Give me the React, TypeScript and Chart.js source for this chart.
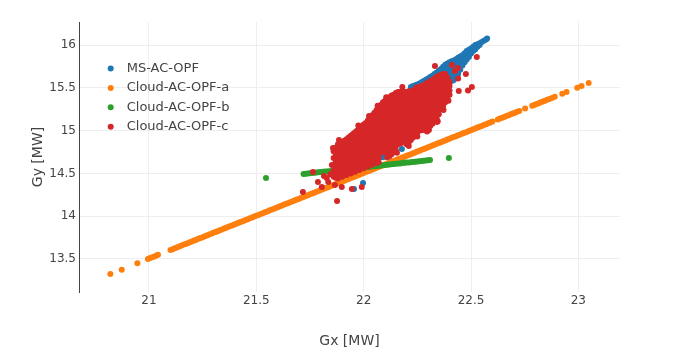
import React, { useEffect, useRef } from 'react';
import { Chart, registerables } from 'chart.js';

Chart.register(...registerables);

const FONT = 'DejaVu Sans';

const seriesNames = ['MS-AC-OPF', 'Cloud-AC-OPF-a', 'Cloud-AC-OPF-b', 'Cloud-AC-OPF-c'];
const seriesColors = ['#1f77b4', '#ff7f0e', '#2ca02c', '#d62728'];

const xTicks = [21, 21.5, 22, 22.5, 23];
const xTickLabels = ['21', '21.5', '22', '22.5', '23'];
const yTicks = [13.5, 14, 14.5, 15, 15.5, 16];
const yTickLabels = ['13.5', '14', '14.5', '15', '15.5', '16'];

// MS-AC-OPF: columns [x, y values] of the visible tail, plus single points
const msCols: [number, number[]][] = [
  [22.22, [15.51, 15.45]],
  [22.23, [15.52, 15.46]],
  [22.24, [15.53, 15.47]],
  [22.25, [15.54, 15.48]],
  [22.26, [15.55, 15.49]],
  [22.27, [15.565, 15.51, 15.45]],
  [22.28, [15.58, 15.52, 15.46]],
  [22.29, [15.595, 15.54, 15.48]],
  [22.30, [15.61, 15.55, 15.49]],
  [22.31, [15.625, 15.57, 15.51, 15.45]],
  [22.32, [15.64, 15.58, 15.52, 15.46]],
  [22.33, [15.66, 15.60, 15.54, 15.48]],
  [22.34, [15.68, 15.62, 15.56, 15.50]],
  [22.35, [15.70, 15.64, 15.58, 15.52]],
  [22.36, [15.72, 15.66, 15.60, 15.54, 15.48]],
  [22.37, [15.745, 15.69, 15.63, 15.57, 15.51]],
  [22.38, [15.77, 15.71, 15.65, 15.59, 15.53]],
  [22.39, [15.785, 15.73, 15.67, 15.61, 15.55]],
  [22.40, [15.80, 15.75, 15.69, 15.63, 15.57]],
  [22.41, [15.81, 15.76, 15.70, 15.64, 15.58]],
  [22.42, [15.82, 15.77, 15.71, 15.65, 15.59]],
  [22.43, [15.835, 15.78, 15.72, 15.66, 15.62]],
  [22.44, [15.85, 15.79, 15.73, 15.66]],
  [22.45, [15.865, 15.81, 15.75, 15.71]],
  [22.46, [15.88, 15.82, 15.76]],
  [22.47, [15.905, 15.85, 15.80]],
  [22.48, [15.93, 15.87, 15.83]],
  [22.49, [15.945, 15.89, 15.86]],
  [22.50, [15.96, 15.90]],
  [22.51, [15.98, 15.93]],
  [22.52, [16.00, 15.95]],
  [22.53, [16.01, 15.98]],
  [22.54, [16.02, 16.00]],
  [22.55, [16.035]],
  [22.56, [16.05]],
  [22.57, [16.065]],
  [22.575, [16.075]],
];
const msPoints: [number, number][] = [
  [21.955, 14.318], [21.997, 14.388], [22.09, 14.69], [22.178, 14.785],
  [21.98, 14.6], [22.02, 14.7], [22.08, 14.9], [22.14, 15.1], [22.2, 15.3],
];

// Cloud-AC-OPF-a
const cloudA: [number, number][] = [
  [20.82, 13.325], [20.873, 13.375], [20.946, 13.449],
  [20.995, 13.5], [21.005, 13.51], [21.015, 13.52], [21.025, 13.53], [21.035, 13.54], [21.042, 13.548],
  [21.10, 13.605], [21.11, 13.615], [21.12, 13.625], [21.13, 13.635], [21.14, 13.645],
  [21.15, 13.655], [21.16, 13.665], [21.17, 13.675], [21.18, 13.685], [21.19, 13.695],
  [21.20, 13.705], [21.21, 13.715], [21.22, 13.725], [21.23, 13.735], [21.24, 13.745],
  [21.25, 13.755], [21.26, 13.765], [21.27, 13.775], [21.28, 13.785], [21.29, 13.795],
  [21.30, 13.805], [21.31, 13.815], [21.32, 13.825], [21.33, 13.835], [21.34, 13.845],
  [21.35, 13.855], [21.36, 13.865], [21.37, 13.875], [21.38, 13.885], [21.39, 13.895],
  [21.40, 13.905], [21.41, 13.915], [21.42, 13.925], [21.43, 13.935], [21.44, 13.945],
  [21.45, 13.955], [21.46, 13.965], [21.47, 13.975], [21.48, 13.985], [21.49, 13.995],
  [21.50, 14.005], [21.51, 14.015], [21.52, 14.025], [21.53, 14.035], [21.54, 14.045],
  [21.55, 14.055], [21.56, 14.065], [21.57, 14.075], [21.58, 14.085], [21.59, 14.095],
  [21.60, 14.105], [21.61, 14.115], [21.62, 14.125], [21.63, 14.135], [21.64, 14.145],
  [21.65, 14.155], [21.66, 14.165], [21.67, 14.175], [21.68, 14.185], [21.69, 14.195],
  [21.70, 14.205], [21.71, 14.215], [21.72, 14.225], [21.73, 14.235], [21.74, 14.245],
  [21.75, 14.255], [21.76, 14.265], [21.77, 14.275], [21.78, 14.285], [21.79, 14.295],
  [21.80, 14.305], [21.81, 14.315], [21.82, 14.325], [21.83, 14.335], [21.84, 14.345],
  [21.85, 14.355], [21.86, 14.365], [21.87, 14.375], [21.88, 14.385], [21.89, 14.395],
  [21.90, 14.405], [21.91, 14.415], [21.92, 14.425], [21.93, 14.435], [21.94, 14.445],
  [21.95, 14.455], [21.96, 14.465], [21.97, 14.475], [21.98, 14.485], [21.99, 14.495],
  [22.00, 14.505], [22.01, 14.515], [22.02, 14.525], [22.03, 14.535], [22.04, 14.545],
  [22.05, 14.555], [22.06, 14.565], [22.07, 14.575], [22.08, 14.585], [22.09, 14.595],
  [22.10, 14.605], [22.11, 14.615], [22.12, 14.625], [22.13, 14.635], [22.14, 14.645],
  [22.15, 14.655], [22.16, 14.665], [22.17, 14.675], [22.18, 14.685], [22.19, 14.695],
  [22.20, 14.705], [22.21, 14.715], [22.22, 14.725], [22.23, 14.735], [22.24, 14.745],
  [22.25, 14.755], [22.26, 14.765], [22.27, 14.775], [22.28, 14.785], [22.29, 14.795],
  [22.30, 14.805], [22.31, 14.815], [22.32, 14.825], [22.33, 14.835], [22.34, 14.845],
  [22.35, 14.855], [22.36, 14.865], [22.37, 14.875], [22.38, 14.885], [22.39, 14.895],
  [22.40, 14.905], [22.41, 14.915], [22.42, 14.925], [22.43, 14.935], [22.44, 14.945],
  [22.45, 14.955], [22.46, 14.965], [22.47, 14.975], [22.48, 14.985], [22.49, 14.995],
  [22.50, 15.005], [22.51, 15.015], [22.52, 15.025], [22.53, 15.035], [22.54, 15.045],
  [22.55, 15.055], [22.56, 15.065], [22.57, 15.075], [22.58, 15.085], [22.59, 15.095],
  [22.60, 15.105],
  [22.625, 15.13], [22.635, 15.14], [22.645, 15.15], [22.655, 15.16], [22.665, 15.17],
  [22.675, 15.18], [22.685, 15.19], [22.695, 15.20], [22.705, 15.21], [22.715, 15.22], [22.725, 15.23],
  [22.752, 15.257],
  [22.785, 15.29], [22.795, 15.30], [22.805, 15.31], [22.815, 15.32], [22.825, 15.33], [22.835, 15.34],
  [22.845, 15.35], [22.855, 15.36], [22.865, 15.37], [22.877, 15.382], [22.89, 15.395],
  [22.925, 15.43], [22.945, 15.45],
  [22.995, 15.50], [23.015, 15.52],
  [23.048, 15.556],
];

// Cloud-AC-OPF-b
const cloudB: [number, number][] = [
  [21.545, 14.446],
  [21.72, 14.493], [21.73, 14.496], [21.74, 14.499], [21.75, 14.501], [21.76, 14.504],
  [21.77, 14.507], [21.78, 14.51], [21.79, 14.512], [21.80, 14.515], [21.81, 14.518],
  [21.82, 14.521], [21.83, 14.523], [21.84, 14.526], [21.85, 14.529], [21.86, 14.532],
  [21.87, 14.534], [21.88, 14.537], [21.89, 14.54], [21.90, 14.543], [21.91, 14.545],
  [21.92, 14.548], [21.93, 14.551], [21.94, 14.554], [21.95, 14.556], [21.96, 14.559],
  [21.97, 14.562], [21.98, 14.565], [21.99, 14.568], [22.00, 14.571], [22.01, 14.573],
  [22.02, 14.576], [22.03, 14.579], [22.04, 14.582], [22.05, 14.584], [22.06, 14.587],
  [22.07, 14.59], [22.08, 14.593], [22.09, 14.595], [22.10, 14.598], [22.11, 14.601],
  [22.12, 14.604], [22.13, 14.606], [22.14, 14.609], [22.15, 14.612], [22.16, 14.615],
  [22.17, 14.617], [22.18, 14.62], [22.19, 14.623], [22.20, 14.626], [22.21, 14.628],
  [22.22, 14.631], [22.23, 14.634], [22.24, 14.637], [22.25, 14.639], [22.26, 14.642],
  [22.27, 14.645], [22.28, 14.648], [22.29, 14.65], [22.30, 14.653], [22.309, 14.657],
  [22.397, 14.68],
];

// Cloud-AC-OPF-c: dense core by columns [x, y values], plus scattered points
const cloudCCols: [number, number[]][] = [
  [21.86, [14.46, 14.53, 14.60, 14.68, 14.76]],
  [21.87, [14.45, 14.51, 14.58, 14.65, 14.73, 14.80]],
  [21.88, [14.44, 14.49, 14.54, 14.59, 14.64, 14.69, 14.74, 14.80, 14.84]],
  [21.89, [14.47, 14.52, 14.57, 14.62, 14.67, 14.72, 14.77, 14.82, 14.85]],
  [21.90, [14.46, 14.51, 14.56, 14.61, 14.66, 14.71, 14.76, 14.81, 14.86]],
  [21.91, [14.49, 14.54, 14.59, 14.64, 14.69, 14.74, 14.79, 14.84, 14.88]],
  [21.92, [14.48, 14.53, 14.58, 14.63, 14.68, 14.73, 14.78, 14.83, 14.88, 14.90]],
  [21.93, [14.51, 14.56, 14.61, 14.66, 14.71, 14.76, 14.81, 14.86, 14.92]],
  [21.94, [14.50, 14.55, 14.60, 14.65, 14.70, 14.75, 14.80, 14.85, 14.90, 14.94]],
  [21.95, [14.53, 14.58, 14.63, 14.68, 14.73, 14.78, 14.83, 14.88, 14.93, 14.96]],
  [21.96, [14.52, 14.57, 14.62, 14.67, 14.72, 14.77, 14.82, 14.87, 14.92, 14.98]],
  [21.97, [14.55, 14.60, 14.65, 14.70, 14.75, 14.80, 14.85, 14.90, 14.95, 15.00]],
  [21.98, [14.54, 14.59, 14.64, 14.69, 14.74, 14.79, 14.84, 14.89, 14.94, 14.99, 15.03]],
  [21.99, [14.57, 14.62, 14.67, 14.72, 14.77, 14.82, 14.87, 14.92, 14.97, 15.02, 15.05]],
  [22.00, [14.56, 14.61, 14.66, 14.71, 14.76, 14.81, 14.86, 14.91, 14.96, 15.01, 15.07]],
  [22.01, [14.59, 14.64, 14.69, 14.74, 14.79, 14.84, 14.89, 14.94, 14.99, 15.04, 15.09]],
  [22.02, [14.58, 14.63, 14.68, 14.73, 14.78, 14.83, 14.88, 14.93, 14.98, 15.03, 15.08, 15.12]],
  [22.03, [14.61, 14.66, 14.71, 14.76, 14.81, 14.86, 14.91, 14.96, 15.01, 15.06, 15.11, 15.15]],
  [22.04, [14.60, 14.65, 14.70, 14.75, 14.80, 14.85, 14.90, 14.95, 15.00, 15.05, 15.10, 15.15, 15.18]],
  [22.05, [14.63, 14.68, 14.73, 14.78, 14.83, 14.88, 14.93, 14.98, 15.03, 15.08, 15.13, 15.18, 15.21]],
  [22.06, [14.62, 14.67, 14.72, 14.77, 14.82, 14.87, 14.92, 14.97, 15.02, 15.07, 15.12, 15.17, 15.24]],
  [22.07, [14.63, 14.68, 14.73, 14.78, 14.83, 14.88, 14.93, 14.98, 15.03, 15.08, 15.13, 15.18, 15.23, 15.27]],
  [22.08, [14.74, 14.79, 14.84, 14.89, 14.94, 14.99, 15.04, 15.09, 15.14, 15.19, 15.24, 15.30]],
  [22.09, [14.75, 14.80, 14.85, 14.90, 14.95, 15.00, 15.05, 15.10, 15.15, 15.20, 15.25, 15.30, 15.33]],
  [22.10, [14.75, 14.80, 14.85, 14.90, 14.95, 15.00, 15.05, 15.10, 15.15, 15.20, 15.25, 15.30, 15.35]],
  [22.11, [14.69, 14.74, 14.79, 14.84, 14.89, 14.94, 14.99, 15.04, 15.09, 15.14, 15.19, 15.24, 15.29, 15.34, 15.37]],
  [22.12, [14.70, 14.75, 14.80, 14.85, 14.90, 14.95, 15.00, 15.05, 15.10, 15.15, 15.20, 15.25, 15.30, 15.35, 15.39]],
  [22.13, [14.725, 14.77, 14.82, 14.87, 14.92, 14.97, 15.02, 15.07, 15.12, 15.17, 15.22, 15.27, 15.32, 15.37, 15.41]],
  [22.14, [14.75, 14.80, 14.85, 14.90, 14.95, 15.00, 15.05, 15.10, 15.15, 15.20, 15.25, 15.30, 15.35, 15.42]],
  [22.15, [14.77, 14.82, 14.87, 14.92, 14.97, 15.02, 15.07, 15.12, 15.17, 15.22, 15.27, 15.32, 15.37, 15.41, 15.44]],
  [22.16, [14.84, 14.89, 14.94, 14.99, 15.04, 15.09, 15.14, 15.19, 15.24, 15.29, 15.34, 15.39, 15.45]],
  [22.17, [14.85, 14.90, 14.95, 15.00, 15.05, 15.10, 15.15, 15.20, 15.25, 15.30, 15.35, 15.40, 15.45]],
  [22.18, [14.86, 14.91, 14.96, 15.01, 15.06, 15.11, 15.16, 15.21, 15.26, 15.31, 15.36, 15.41, 15.45]],
  [22.19, [14.87, 14.92, 14.97, 15.02, 15.07, 15.12, 15.17, 15.22, 15.27, 15.32, 15.37, 15.42, 15.45]],
  [22.20, [14.84, 14.89, 14.94, 14.99, 15.04, 15.09, 15.14, 15.19, 15.24, 15.29, 15.34, 15.39, 15.45]],
  [22.21, [14.865, 14.91, 14.96, 15.01, 15.06, 15.11, 15.16, 15.21, 15.26, 15.31, 15.36, 15.41, 15.46]],
  [22.22, [14.89, 14.94, 14.99, 15.04, 15.09, 15.14, 15.19, 15.24, 15.29, 15.34, 15.39, 15.43, 15.46]],
  [22.23, [14.92, 14.97, 15.02, 15.07, 15.12, 15.17, 15.22, 15.27, 15.32, 15.37, 15.42, 15.47]],
  [22.24, [14.95, 15.00, 15.05, 15.10, 15.15, 15.20, 15.25, 15.30, 15.35, 15.40, 15.44, 15.48]],
  [22.25, [14.975, 15.02, 15.07, 15.12, 15.17, 15.22, 15.27, 15.32, 15.37, 15.42, 15.46, 15.49]],
  [22.26, [15.00, 15.05, 15.10, 15.15, 15.20, 15.25, 15.30, 15.35, 15.40, 15.45, 15.50]],
  [22.27, [15.005, 15.06, 15.11, 15.16, 15.21, 15.26, 15.31, 15.36, 15.41, 15.46, 15.52]],
  [22.28, [15.01, 15.06, 15.11, 15.16, 15.21, 15.26, 15.31, 15.36, 15.41, 15.46, 15.50, 15.53]],
  [22.29, [15.02, 15.07, 15.12, 15.17, 15.22, 15.27, 15.32, 15.37, 15.42, 15.47, 15.52, 15.55]],
  [22.30, [15.03, 15.08, 15.13, 15.18, 15.23, 15.28, 15.33, 15.38, 15.43, 15.48, 15.53, 15.56]],
  [22.31, [15.055, 15.10, 15.15, 15.20, 15.25, 15.30, 15.35, 15.40, 15.45, 15.50, 15.55, 15.58]],
  [22.32, [15.08, 15.13, 15.18, 15.23, 15.28, 15.33, 15.38, 15.43, 15.48, 15.53, 15.59]],
  [22.33, [15.11, 15.16, 15.21, 15.26, 15.31, 15.36, 15.41, 15.46, 15.51, 15.56, 15.61]],
  [22.34, [15.14, 15.19, 15.24, 15.29, 15.34, 15.39, 15.44, 15.49, 15.54, 15.59, 15.63]],
  [22.35, [15.19, 15.24, 15.29, 15.34, 15.39, 15.44, 15.49, 15.54, 15.59, 15.64]],
  [22.36, [15.25, 15.30, 15.35, 15.40, 15.45, 15.50, 15.55, 15.60, 15.65]],
  [22.37, [15.29, 15.34, 15.39, 15.44, 15.49, 15.54, 15.59, 15.63, 15.66]],
  [22.38, [15.33, 15.38, 15.43, 15.48, 15.53, 15.58, 15.62, 15.66]],
  [22.39, [15.38, 15.43, 15.48, 15.53, 15.58, 15.62]],
  [22.40, [15.42, 15.47, 15.52, 15.57]],
];
const cloudCPoints: [number, number][] = [
  [21.717, 14.283], [21.764, 14.516], [21.787, 14.40], [21.805, 14.341], [21.828, 14.446],
  [21.852, 14.598], [21.857, 14.797], [21.876, 14.178], [21.945, 14.318], [21.898, 14.341],
  [21.991, 14.341], [21.866, 14.364], [21.815, 14.47], [21.845, 14.49], [21.835, 14.40],
  [21.949, 14.88], [21.885, 14.89], [21.975, 15.06], [22.025, 15.17], [22.065, 15.29],
  [22.105, 15.39], [22.18, 15.51], [22.248, 15.51], [22.44, 15.61],
  [22.155, 14.74], [22.21, 14.82], [22.25, 14.93], [22.295, 14.99], [22.345, 15.11],
  [22.372, 15.24], [22.395, 15.35],
  [22.332, 15.755], [22.411, 15.766], [22.439, 15.731], [22.425, 15.696], [22.527, 15.86],
  [22.476, 15.661], [22.504, 15.509], [22.486, 15.47], [22.443, 15.463], [22.388, 15.357],
  [22.383, 15.439], [22.341, 15.217], [22.341, 15.10], [22.318, 15.089], [22.304, 15.007],
  [22.262, 15.03],
];

type Pt = { x: number; y: number };
const fromCols = (cols: [number, number[]][]): Pt[] =>
  cols.flatMap(([x, ys]) => ys.map((y) => ({ x, y })));
const fromPairs = (pairs: [number, number][]): Pt[] => pairs.map(([x, y]) => ({ x, y }));

const legendPlugin = {
  id: 'insideLegend',
  afterDatasetsDraw(chart: any) {
    const ctx = chart.ctx as CanvasRenderingContext2D;
    ctx.save();
    seriesNames.forEach((name, i) => {
      const y = 68.5 + i * 19.4;
      ctx.beginPath();
      ctx.arc(110.7, y, 3, 0, Math.PI * 2);
      ctx.fillStyle = seriesColors[i];
      ctx.fill();
      ctx.fillStyle = '#444444';
      ctx.font = `13px "${FONT}"`;
      ctx.textAlign = 'left';
      ctx.textBaseline = 'middle';
      ctx.fillText(name, 126.7, y);
    });
    ctx.restore();
  },
};

export default function App() {
  const ref = useRef<HTMLCanvasElement | null>(null);

  useEffect(() => {
    if (!ref.current) return;
    const datasets = [
      fromCols(msCols).concat(fromPairs(msPoints)),
      fromPairs(cloudA),
      fromPairs(cloudB),
      fromCols(cloudCCols).concat(fromPairs(cloudCPoints)),
    ].map((data, i) => ({
      label: seriesNames[i],
      data,
      backgroundColor: seriesColors[i],
      borderColor: seriesColors[i],
      pointRadius: 3,
      pointHoverRadius: 3,
      pointBorderWidth: 0,
      order: 3 - i,
    }));

    const chart = new Chart(ref.current, {
      type: 'scatter',
      data: { datasets },
      options: {
        animation: false,
        responsive: false,
        events: [],
        layout: { padding: { left: 0, right: 80, top: 22, bottom: 0 } },
        plugins: { legend: { display: false }, tooltip: { enabled: false } },
        scales: {
          x: {
            type: 'linear',
            min: 20.674,
            max: 23.194,
            afterBuildTicks: (s: any) => {
              s.ticks = xTicks.map((v) => ({ value: v }));
            },
            afterFit: (s: any) => {
              s.height = 60;
            },
            grid: { color: '#eeeeee', lineWidth: 1, drawTicks: false },
            border: { display: false },
            ticks: {
              padding: 1.5,
              color: '#444444',
              font: { family: FONT, size: 12 },
              callback: (v: any) => xTickLabels[xTicks.indexOf(Number(v))] ?? '',
            },
            title: {
              display: true,
              text: 'Gx [MW]',
              color: '#444444',
              font: { family: FONT, size: 14 },
              padding: { top: 0, bottom: 2 },
            },
          },
          y: {
            type: 'linear',
            min: 13.114,
            max: 16.269,
            afterBuildTicks: (s: any) => {
              s.ticks = yTicks.map((v) => ({ value: v }));
            },
            afterFit: (s: any) => {
              s.width = 79;
            },
            grid: { color: '#eeeeee', lineWidth: 1, drawTicks: false },
            border: { display: true, color: '#444444', width: 1 },
            ticks: {
              padding: 3,
              color: '#444444',
              font: { family: FONT, size: 12 },
              callback: (v: any) => yTickLabels[yTicks.indexOf(Number(v))] ?? '',
            },
            title: {
              display: true,
              text: 'Gy [MW]',
              color: '#444444',
              font: { family: FONT, size: 14 },
              padding: { top: 30, bottom: 0 },
            },
          },
        },
      },
      plugins: [legendPlugin],
    });
    return () => chart.destroy();
  }, []);

  return (
    <div style={{ position: 'absolute', left: 0, top: 0, width: 700, height: 352, background: '#ffffff' }}>
      <canvas ref={ref} width={700} height={352} style={{ display: 'block', width: 700, height: 352 }} />
    </div>
  );
}
